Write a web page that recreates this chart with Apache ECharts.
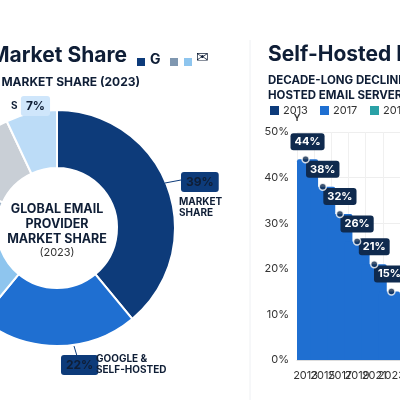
<!DOCTYPE html>
<html><head><meta charset="utf-8">
<script src="https://cdn.jsdelivr.net/npm/echarts@6/dist/echarts.min.js"></script>
<style>html,body{margin:0;background:#fff}#c{width:400px;height:400px}</style>
</head><body><div id="c"></div>
<script>
const shareNames = ['Market Share', 'Google & Self-Hosted', 'Outlook', 'Yahoo', 'Others', 'Apple']
const shareValues = [39, 22, 16, 5, 11, 7]
const shareColors = ['#0d3b7a', '#1f6fd1', '#8ec5ee', '#9fb3c8', '#c9cfd6', '#bcdcf7']
const years = ['2013', '2015', '2017', '2019', '2021', '2023']
const selfHosted = [44, 38, 32, 26, 21, 15]
const yTicks = [0, 10, 20, 30, 40, 50]
const legendItems = [['2013', '#0d3b7a'], ['2017', '#1f6fd1'], ['2019', '#2aa1a6']]

const font = 'Inter, "Noto Sans", sans-serif'
const chart = echarts.init(document.getElementById('c'))
const rich = {
  b: {backgroundColor: '#0d3b7a', color: '#fff', fontSize: 12, fontWeight: 'bold', padding: [4, 5], borderRadius: 3, fontFamily: font},
  c: {backgroundColor: '#cfe6fb', color: '#1f6fd1', fontSize: 12, fontWeight: 'bold', padding: [4, 5], borderRadius: 3, fontFamily: font},
  t: {color: '#0f1e36', fontSize: 10, fontWeight: 'bold', lineHeight: 11, fontFamily: font}
}
const txt = (x, y, text, f, extra) => ({type: 'text', x, y, z: 100, style: Object.assign({text, font: f, fill: '#0f1e36'}, extra || {})})

const graphic = [
  txt(127, 45, 'Email Provider Market Share', 'bold 21px ' + font, {align: 'right'}),
  {type: 'rect', z: 100, shape: {x: 137, y: 58, width: 8, height: 8}, style: {fill: '#0d3b7a'}},
  txt(150, 53, 'G', 'bold 14px ' + font),
  {type: 'rect', z: 100, shape: {x: 170, y: 58, width: 8, height: 8}, style: {fill: '#7f97b0'}},
  {type: 'rect', z: 100, shape: {x: 184, y: 58, width: 8, height: 8}, style: {fill: '#8ec5ee'}},
  txt(196, 51, '✉', '15px "DejaVu Sans"'),
  txt(140, 76, 'GLOBAL EMAIL PROVIDER MARKET SHARE (2023)', 'bold 12px ' + font, {align: 'right'}),
  txt(268, 44, 'Self-Hosted Decline', 'bold 21px ' + font),
  txt(268, 73, 'DECADE-LONG DECLINE: SELF-\nHOSTED EMAIL SERVERS (%)', 'bold 11.5px ' + font, {lineHeight: 15}),
  {type: 'line', z: 1, shape: {x1: 250, y1: 40, x2: 250, y2: 400}, style: {stroke: '#eef0f3', lineWidth: 1}},
  txt(57, 202, 'GLOBAL EMAIL\nPROVIDER\nMARKET SHARE', 'bold 12.5px ' + font, {align: 'center', lineHeight: 15}),
  txt(57, 247, '(2023)', '11px ' + font, {align: 'center', fill: '#333'}),
  txt(181, 172, '{b|39%}', '', {rich}),
  txt(179, 196, '{t|MARKET}\n{t|SHARE}', '', {rich, align: 'left'}),
  {type: 'line', z: 100, shape: {x1: 165, y1: 183, x2: 181, y2: 180}, style: {stroke: '#0d3b7a'}},
  txt(61, 355, '{b|22%}', '', {rich}),
  txt(96, 353, '{t|GOOGLE &}\n{t|SELF-HOSTED}', '', {rich}),
  {type: 'line', z: 100, shape: {x1: 74, y1: 346, x2: 77, y2: 356}, style: {stroke: '#0d3b7a'}},
  txt(11, 96, '{t|S} {c|7%}', '', {rich})
]
legendItems.forEach((it, i) => {
  graphic.push({type: 'rect', z: 100, shape: {x: 270 + i * 50, y: 106, width: 9, height: 9}, style: {fill: it[1]}})
  graphic.push(txt(283 + i * 50, 105, it[0], '11px ' + font, {fill: '#333'}))
})

chart.setOption({
  backgroundColor: '#fff',
  textStyle: {fontFamily: font},
  graphic,
  grid: {left: 297, width: 222, top: 132, bottom: 40},
  xAxis: {
    type: 'category', data: years,
    axisTick: {show: false}, axisLine: {lineStyle: {color: '#ddd'}},
    axisLabel: {color: '#333', fontSize: 11, margin: 10, interval: 0},
    splitLine: {show: true, lineStyle: {color: '#f0f0f0'}}
  },
  yAxis: {
    type: 'value', min: 0, max: 50, interval: 10, name: 'Y',
    nameTextStyle: {fontSize: 9, fontWeight: 'bold', color: '#333', padding: [0, 0, -6, 0]},
    axisLabel: {formatter: v => yTicks.includes(v) ? v + '%' : '', color: '#333', fontSize: 11},
    splitLine: {lineStyle: {color: '#eee'}}
  },
  series: [
    {
      type: 'pie', radius: [60, 118], center: [57, 228], startAngle: 90, clockwise: true,
      itemStyle: {borderColor: '#fff', borderWidth: 2},
      label: {show: false}, labelLine: {show: false},
      data: shareNames.map((n, i) => ({name: n, value: shareValues[i], itemStyle: {color: shareColors[i]}}))
    },
    {
      name: '2017', type: 'bar', data: selfHosted, barWidth: 25,
      itemStyle: {color: '#1f6fd1', borderRadius: [2, 2, 0, 0]},
      label: {
        show: true, position: 'top', distance: 9, formatter: '{c}%',
        backgroundColor: '#0f2a4e', color: '#fff', fontSize: 11, fontWeight: 'bold', padding: [3, 4], borderRadius: 3
      }
    },
    {
      type: 'scatter', data: selfHosted, symbolSize: 7, z: 5,
      itemStyle: {color: '#0f2a4e', borderColor: '#fff', borderWidth: 1.5}
    }
  ]
})
</script></body></html>
